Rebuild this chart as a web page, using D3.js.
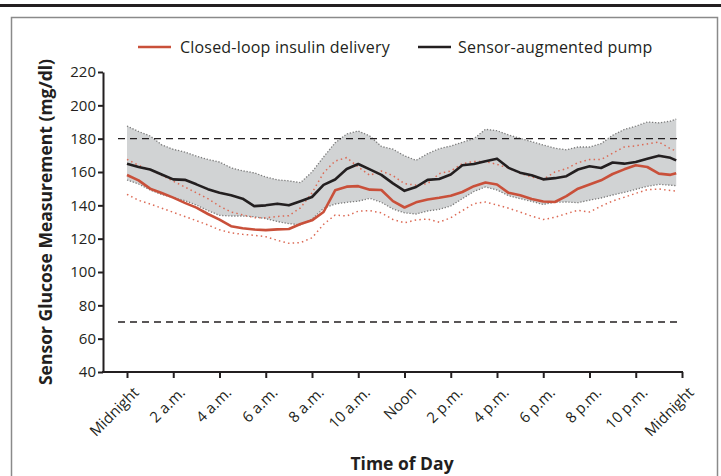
<!DOCTYPE html>
<html>
<head>
<meta charset="utf-8">
<script src="https://cdn.jsdelivr.net/npm/d3@7"></script>
<style>
  body { margin: 0; background: #fff; }
  text { font-family: "Open Sans", sans-serif; fill: #231f20; }
  .axis text { font-size: 15px; }
  .axis path, .axis line { stroke: #231f20; stroke-width: 2; }
  .title { font-weight: bold; font-size: 17.5px; }
  .legend text { font-size: 16px; letter-spacing: 0.2px; }
</style>
</head>
<body>
<div id="chart"></div>
<script>
// DATA (hours after midnight, glucose in mg/dl)
const hours = [0, 0.5, 1, 1.5, 2, 2.5, 3, 3.5, 4, 4.5, 5, 5.5, 6, 6.5, 7, 7.5, 8, 8.5, 9, 9.5,
  10, 10.5, 11, 11.5, 12, 12.5, 13, 13.5, 14, 14.5, 15, 15.5, 16, 16.5, 17, 17.5, 18, 18.5, 19, 19.5,
  20, 20.5, 21, 21.5, 22, 22.5, 23, 23.5, 23.75];

// sensor-augmented pump: median and interquartile band
const pumpMedian = [165, 163, 161.5, 158.5, 155.6, 155.3, 152.6, 149.7, 147.5, 146, 144, 139.5, 140, 141, 140, 142.5, 145, 152.3, 155.5, 161.8,
  164.8, 161.6, 158.3, 153.2, 148.7, 151, 155.3, 155.8, 158.5, 164, 164.8, 166.5, 168, 162.5, 159.6, 158, 155.6, 156.3, 157.5, 161.5,
  163.4, 162.4, 165.7, 165, 166, 168, 169.8, 168.5, 167];
const pumpUpper = [187.6, 184.3, 181.6, 176.3, 173.6, 172, 169.5, 167.5, 166, 162.5, 160.7, 159.5, 157, 155.3, 154.7, 153.6, 160, 169, 177.5, 182.8,
  184.6, 181.6, 175.3, 173.7, 169.7, 167, 171, 174, 175.6, 177.8, 180, 185.6, 184.8, 182.2, 180.2, 178.2, 176.2, 174.3, 173.3, 175,
  175, 177, 182, 185.5, 187.5, 190, 189.5, 190.5, 191.8];
const pumpLower = [155.2, 152.8, 149.2, 146.5, 144.7, 142.8, 140.2, 136.8, 134, 133.6, 133.6, 133.2, 132, 130.3, 129, 128.3, 131.7, 138.2, 140.8, 141.8,
  142.5, 144.2, 141.8, 137.8, 135.5, 134.8, 136.6, 137.6, 139.6, 144, 148.3, 151, 149.2, 145.8, 144, 142.4, 140.5, 141.9, 142, 141.6,
  143.1, 144.4, 146.2, 147.8, 149.6, 151.4, 152.6, 152.1, 151.8];

// closed-loop insulin delivery: median and interquartile range
const loopMedian = [158.2, 155, 150, 147.4, 144.6, 141.5, 138.6, 134.8, 131.4, 127.5, 126.3, 125.5, 125.1, 125.6, 125.8, 128.8, 131, 136, 149, 151.2,
  151.5, 149.4, 149.2, 142.5, 138.7, 141.8, 143.5, 144.5, 145.7, 148, 151.5, 153.7, 152.5, 147.5, 146, 143.8, 142.3, 142, 145.5, 150,
  152.5, 155, 158.8, 161.6, 164, 163, 159, 158.3, 159.3];
const loopUpper = [167.6, 164, 161.4, 158, 154.5, 151, 147.5, 144, 139.5, 136, 134.3, 132.6, 132.5, 133.3, 133.8, 138.5, 147.5, 159.5, 166.6, 168.6,
  163, 158, 160.6, 157.8, 153, 152.1, 153, 159, 160.6, 165, 166.3, 166.3, 164.6, 162.3, 159.2, 157, 155.5, 160, 162, 165.6,
  167.5, 167.5, 171.3, 175, 175.7, 176.8, 178, 174, 172.6];
const loopLower = [146.6, 143, 140.8, 138.3, 135.8, 133.3, 130.8, 128.2, 125.3, 123.5, 122.6, 122, 121.2, 119, 117.2, 117.6, 120.5, 128.6, 134.2, 133.6,
  136.5, 136.8, 135.5, 131.5, 129.5, 131.2, 131.8, 129.9, 132.5, 136.8, 141, 142, 140.2, 138.3, 136, 133.5, 131.5, 132.8, 135, 137,
  136, 139.5, 142.6, 144.8, 147.2, 149.4, 149.8, 148.9, 148.6];

const yTicks = [40, 60, 80, 100, 120, 140, 160, 180, 200, 220];
const xTicks = [0, 2, 4, 6, 8, 10, 12, 14, 16, 18, 20, 22, 24];
const xTickLabels = ["Midnight", "2 a.m.", "4 a.m.", "6 a.m.", "8 a.m.", "10 a.m.", "Noon",
  "2 p.m.", "4 p.m.", "6 p.m.", "8 p.m.", "10 p.m.", "Midnight"];
const targetRange = [70, 180];
const legendLabels = ["Closed-loop insulin delivery", "Sensor-augmented pump"];

// CONSTANTS
const width = 721, height = 476;
const red = "#c9503a", redDot = "#dc6a55", black = "#231f20", band = "#d1d3d4";

const svg = d3.select("#chart").append("svg")
  .attr("width", width)
  .attr("height", height);

// frame
svg.append("rect")
  .attr("x", 0).attr("y", 4).attr("width", width).attr("height", 3)
  .attr("fill", "#231f20");
svg.append("rect")
  .attr("x", 11.5).attr("y", 17.5).attr("width", 706).attr("height", 480)
  .attr("fill", "none").attr("stroke", "#8a8a8a").attr("stroke-width", 1.5);

// SCALES
const xScale = d3.scaleLinear().domain([0, 24]).range([127, 682]);
const yScale = d3.scaleLinear().domain([40, 220]).range([372, 72]);

const rows = hours.map((h, i) => ({
  h,
  pm: pumpMedian[i], pu: pumpUpper[i], pl: pumpLower[i],
  lm: loopMedian[i], lu: loopUpper[i], ll: loopLower[i]
}));

// pump band
svg.append("path")
  .datum(rows)
  .attr("fill", band)
  .attr("d", d3.area().x(d => xScale(d.h)).y0(d => yScale(d.pl)).y1(d => yScale(d.pu)));

const lineOf = key => d3.line().x(d => xScale(d.h)).y(d => yScale(d[key]));

// dotted band edges
["pu", "pl"].forEach(k => {
  svg.append("path").datum(rows)
    .attr("fill", "none").attr("stroke", "#7d7d7d").attr("stroke-width", 1.3)
    .attr("stroke-dasharray", "1.3,1.7")
    .attr("d", lineOf(k));
});

// target range dashed lines
targetRange.forEach(v => {
  svg.append("line")
    .attr("x1", 118).attr("x2", 682)
    .attr("y1", yScale(v)).attr("y2", yScale(v))
    .attr("stroke", black).attr("stroke-width", 1.3)
    .attr("stroke-dasharray", "7,5");
});

// closed-loop IQR dotted
["lu", "ll"].forEach(k => {
  svg.append("path").datum(rows)
    .attr("fill", "none").attr("stroke", redDot).attr("stroke-width", 1.5)
    .attr("stroke-dasharray", "1.5,3.2")
    .attr("d", lineOf(k));
});

// medians
svg.append("path").datum(rows)
  .attr("fill", "none").attr("stroke", black).attr("stroke-width", 2.6)
  .attr("stroke-linejoin", "round")
  .attr("d", lineOf("pm"));
svg.append("path").datum(rows)
  .attr("fill", "none").attr("stroke", red).attr("stroke-width", 2.6)
  .attr("stroke-linejoin", "round")
  .attr("d", lineOf("lm"));

// AXES
const yAxis = d3.axisLeft(yScale).tickValues(yTicks).tickSize(5).tickSizeOuter(0).tickPadding(2);
svg.append("g")
  .attr("class", "axis")
  .attr("transform", "translate(103,0)")
  .call(yAxis);

const xAxis = d3.axisBottom(xScale).tickValues(xTicks).tickSize(6).tickSizeOuter(0)
  .tickFormat((d, i) => xTickLabels[i]);
const gx = svg.append("g")
  .attr("class", "axis")
  .attr("transform", "translate(0,372)")
  .call(xAxis);
gx.select(".domain").attr("d", "M102,0H683");
gx.selectAll(".tick text")
  .attr("text-anchor", "end")
  .attr("dx", 0).attr("dy", 0)
  .attr("transform", "translate(6,15) rotate(-45)");

// axis titles
svg.append("text")
  .attr("class", "title")
  .attr("transform", "translate(52,222) rotate(-90)")
  .attr("text-anchor", "middle")
  .text("Sensor Glucose Measurement (mg/dl)");
svg.append("text")
  .attr("class", "title")
  .attr("x", 402).attr("y", 470)
  .attr("text-anchor", "middle")
  .text("Time of Day");

// LEGEND
const legend = svg.append("g").attr("class", "legend");
[[138, 180, red], [418, 458, black]].forEach((p, i) => {
  legend.append("line")
    .attr("x1", p[0]).attr("x2", p[0] + 33)
    .attr("y1", 47).attr("y2", 47)
    .attr("stroke", p[2]).attr("stroke-width", 2.6);
  legend.append("text")
    .attr("x", p[1]).attr("y", 53)
    .text(legendLabels[i]);
});
</script>
</body>
</html>
